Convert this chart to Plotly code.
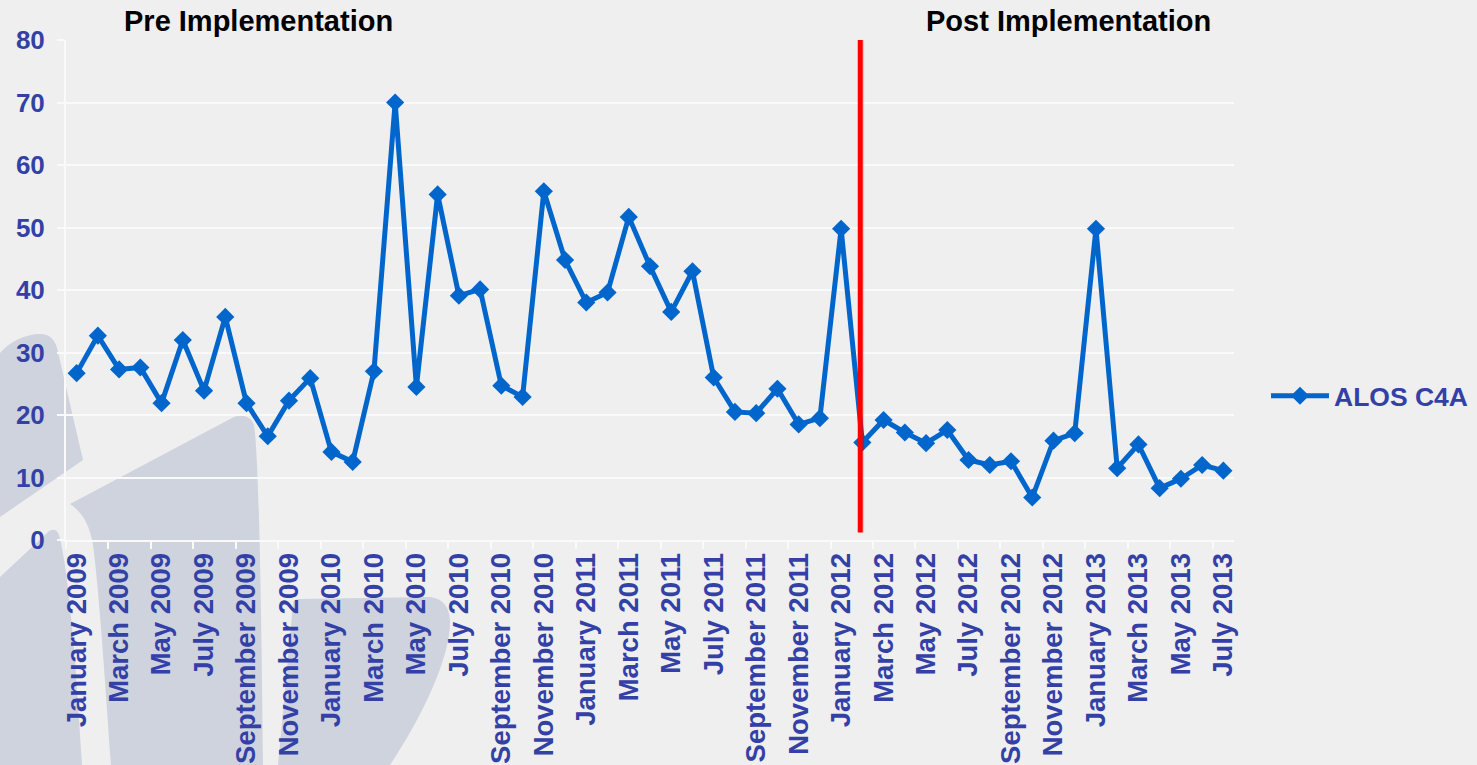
import plotly.graph_objects as go
import pandas as pd

# ---------------- data ----------------
months = pd.date_range("2009-01-01", periods=55, freq="MS").strftime("%B %Y").tolist()
alos_c4a = [
    26.7, 32.7, 27.3, 27.6, 21.9, 32.0, 23.9, 35.7, 21.9, 16.6, 22.3, 25.9,   # 2009
    14.1, 12.5, 27.0, 70.0, 24.5, 55.3, 39.1, 40.1, 24.7, 22.9, 55.8, 44.8,   # 2010
    38.0, 39.6, 51.7, 43.8, 36.5, 43.0, 26.0, 20.5, 20.3, 24.2, 18.5, 19.5,   # 2011
    49.8, 15.6, 19.2, 17.2, 15.5, 17.6, 12.8, 12.0, 12.6, 6.8, 15.9, 17.1,    # 2012
    49.8, 11.5, 15.3, 8.3, 9.8, 12.0, 11.1,                                   # 2013
]
series_name = "ALOS C4A"
implementation_month = "February 2012"
y_ticks = [0, 10, 20, 30, 40, 50, 60, 70, 80]
phase_labels = ["Pre Implementation", "Post Implementation"]

# ---------------- layout constants ----------------
W, H = 1477, 765
PL, PR, PT, PB = 66, 1234, 40, 540          # plot area in pixels
BG = "#efefef"
LINE_BLUE = "#0066cc"
TEXT_BLUE = "#3341a6"
WM = "#ced3de"
FONT = "Liberation Sans"


def p(x, y):
    return f"{(x - PL) / (PR - PL):.5f},{(PB - y) / (PB - PT):.5f}"


def path(cmds):
    out = []
    for c in cmds:
        op, pts = c[0], c[1:]
        if op == "Z":
            out.append("Z")
        else:
            out.append(op + " ".join(p(*pt) for pt in pts))
    return " ".join(out)


watermark = [
    [("M", (0, 353)), ("C", (10, 341), (28, 333), (42, 334)), ("C", (52, 335), (56, 342), (58, 352)),
     ("L", (83, 460)), ("L", (0, 517)), ("Z",)],
    [("M", (70, 504)), ("L", (232, 418)), ("C", (240, 414), (251, 415), (254, 425)),
     ("C", (258, 450), (261, 560), (263, 765)), ("L", (111, 765)),
     ("C", (105, 680), (99, 590), (93, 545)), ("C", (90, 525), (82, 512), (70, 504)), ("Z",)],
    [("M", (0, 577)), ("L", (47, 533)), ("C", (52, 528), (57, 529), (59, 535)),
     ("C", (65, 555), (71, 610), (75, 660)), ("L", (82, 765)), ("L", (0, 765)), ("Z",)],
    [("M", (293, 604)), ("C", (293, 600), (296, 599), (300, 599)), ("L", (428, 597)),
     ("C", (441, 597), (450, 606), (450, 622)), ("C", (450, 660), (420, 720), (390, 765)),
     ("L", (278, 765)), ("Z",)],
]

fig = go.Figure()
fig.add_trace(go.Scatter(
    x=months, y=alos_c4a, mode="lines+markers", name=series_name,
    line=dict(color=LINE_BLUE, width=5),
    marker=dict(symbol="diamond", size=14, color=LINE_BLUE),
))

shapes = []
for wm in watermark:
    shapes.append(dict(type="path", xref="paper", yref="paper", path=path(wm),
                       fillcolor=WM, line=dict(width=0), layer="below"))

impl_idx = months.index(implementation_month) - 0.1
shapes.append(dict(type="line", xref="x", yref="y", x0=impl_idx + 0.09, x1=impl_idx + 0.09,
                   y0=1.2, y1=80, line=dict(color="rgba(0,0,0,0.12)", width=4), layer="above"))
shapes.append(dict(type="line", xref="x", yref="y", x0=impl_idx, x1=impl_idx,
                   y0=1.2, y1=80, line=dict(color="#ff0000", width=5), layer="above"))

annotations = [
    dict(text=phase_labels[0], xref="paper", yref="paper", x=(258 - PL) / (PR - PL),
         y=(PB - 21) / (PB - PT), xanchor="center", yanchor="middle", showarrow=False,
         font=dict(family=FONT, size=29, color="#000000", weight="bold")),
    dict(text=phase_labels[1], xref="paper", yref="paper", x=(1068 - PL) / (PR - PL),
         y=(PB - 21) / (PB - PT), xanchor="center", yanchor="middle", showarrow=False,
         font=dict(family=FONT, size=29, color="#000000", weight="bold")),
]

fig.update_layout(
    width=W, height=H,
    margin=dict(l=PL, r=W - PR, t=PT, b=H - PB, pad=0, autoexpand=False),
    paper_bgcolor=BG, plot_bgcolor="rgba(0,0,0,0)",
    font=dict(family=FONT, color=TEXT_BLUE),
    shapes=shapes, annotations=annotations,
    showlegend=True,
    legend=dict(x=(1266 - PL) / (PR - PL), y=(PB - 396) / (PB - PT), xanchor="left", yanchor="middle",
                bgcolor="rgba(0,0,0,0)", itemwidth=58,
                font=dict(family=FONT, size=26.5, color=TEXT_BLUE, weight="bold")),
    xaxis=dict(
        type="category", range=[-0.5, len(months) - 0.5], automargin=False,
        tickmode="linear", tick0=0, dtick=2, tickson="boundaries",
        ticks="outside", ticklen=7, tickwidth=2, tickcolor="#fafafa",
        tickangle=-90, tickfont=dict(family=FONT, size=27.5, color=TEXT_BLUE, weight="bold"),
        showgrid=False, showline=True, linecolor="#fafafa", linewidth=2, zeroline=False,
    ),
    yaxis=dict(
        range=[0, 80], tickmode="array", tickvals=y_ticks, automargin=False,
        ticks="outside", ticklen=7, tickwidth=2, tickcolor="#fafafa",
        tickfont=dict(family=FONT, size=26, color=TEXT_BLUE, weight="bold"),
        ticklabelstandoff=7,
        showgrid=True, gridcolor="#fafafa", gridwidth=2,
        showline=True, linecolor="#fafafa", linewidth=2, zeroline=False,
    ),
)

fig.write_html("out.html")
